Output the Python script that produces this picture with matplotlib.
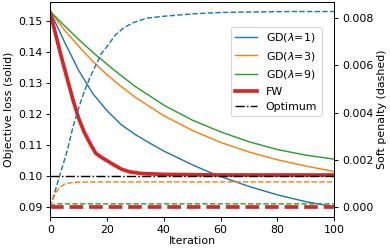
import matplotlib
matplotlib.use("Agg")
import matplotlib.pyplot as plt

# objective loss (left axis, solid)
it_gd = [0, 5, 10, 15, 20, 25, 30, 35, 40, 50, 55, 60, 70, 80, 90, 100]
loss_gd1 = [0.1530, 0.1432, 0.1340, 0.1265, 0.1210, 0.1165, 0.1133, 0.1106,
            0.1080, 0.1036, 0.1016, 0.0998, 0.0966, 0.0939, 0.0917, 0.0900]
it_gd3 = [0, 5, 10, 15, 20, 25, 30, 40, 50, 60, 70, 80, 90, 100]
loss_gd3 = [0.1530, 0.1470, 0.1418, 0.1369, 0.1326, 0.1288, 0.1253, 0.1194,
            0.1147, 0.1108, 0.1077, 0.1052, 0.1032, 0.1014]
loss_gd9 = [0.1530, 0.1484, 0.1440, 0.1398, 0.1360, 0.1323, 0.1288, 0.1228,
            0.1180, 0.1142, 0.1110, 0.1085, 0.1067, 0.1054]
it_fw = [0, 2, 4, 6, 8, 10, 12, 14, 16, 18, 20, 22.5, 25, 28, 32, 40, 60, 100]
loss_fw = [0.1525, 0.1452, 0.1380, 0.1312, 0.1245, 0.1185, 0.1140, 0.1105,
           0.1073, 0.1060, 0.1049, 0.1035, 0.1022, 0.1013, 0.1008, 0.1005,
           0.1003, 0.1003]
optimum = 0.1

# soft penalty (right axis, dashed)
it_p1 = [0, 2, 4, 6, 8, 10, 12, 14, 16, 18, 20, 23, 26, 29, 34, 40, 50, 60, 70, 85, 100]
pen_gd1 = [0.0, 0.0008, 0.0016, 0.0024, 0.0034, 0.0042, 0.0049, 0.0055, 0.0060,
           0.0065, 0.0068, 0.0073, 0.0076, 0.0078, 0.0080, 0.00808, 0.00818,
           0.00824, 0.00826, 0.00828, 0.00828]
it_p3 = [0, 1, 2, 3, 4, 5, 6, 8, 10, 15, 100]
pen_gd3 = [0.0, 0.00036, 0.00062, 0.00078, 0.00089, 0.00096, 0.00100, 0.00104,
           0.00105, 0.00106, 0.00106]
it_p9 = [0, 1, 2, 3, 100]
pen_gd9 = [0.0, 0.00009, 0.00012, 0.00013, 0.00013]
it_pfw = [0, 100]
pen_fw = [0.0, 0.0]

plt.rcParams['font.size'] = 9.5
fig = plt.figure(figsize=(390 / 83, 252 / 83), dpi=83)
ax = fig.add_axes([0.129, 0.140, 0.728, 0.853])
ax2 = ax.twinx()

lw = 1.25
ax.plot(it_gd, loss_gd1, color='C0', lw=lw, label=r'GD($\lambda$=1)')
ax.plot(it_gd3, loss_gd3, color='C1', lw=lw, label=r'GD($\lambda$=3)')
ax.plot(it_gd3, loss_gd9, color='C2', lw=lw, label=r'GD($\lambda$=9)')
ax.plot(it_fw, loss_fw, color='C3', lw=3.2, label='FW')
ax.plot([0, 100], [optimum, optimum], 'k-.', lw=lw, label='Optimum')

ax2.plot(it_p1, pen_gd1, '--', color='C0', lw=lw)
ax2.plot(it_p3, pen_gd3, '--', color='C1', lw=lw)
ax2.plot(it_p9, pen_gd9, '--', color='C2', lw=lw)
ax2.plot(it_pfw, pen_fw, '--', color='C3', lw=3.2)

ax.set_xlim(0, 100)
ax.set_xlabel('Iteration', labelpad=1)
ax.set_ylabel('Objective loss (solid)', labelpad=3)
ax2.set_ylabel('Soft penalty (dashed)', labelpad=3)
ax.set_yticks([0.09, 0.10, 0.11, 0.12, 0.13, 0.14, 0.15])
ax2.set_yticks([0.0, 0.002, 0.004, 0.006, 0.008])

ax.legend(loc='upper right', bbox_to_anchor=(0.9556, 0.8837), borderaxespad=0)

fig.savefig('out.png', dpi=83)
